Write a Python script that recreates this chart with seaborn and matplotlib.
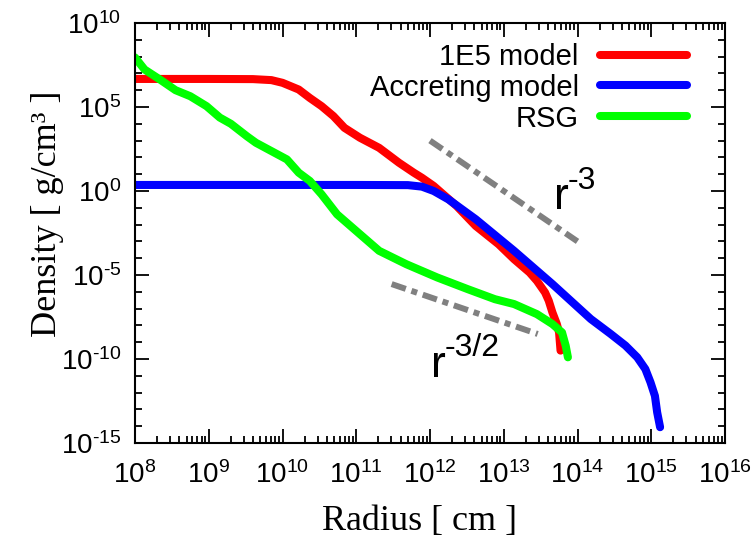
import numpy as np
import pandas as pd
import matplotlib
matplotlib.use("Agg")
import matplotlib.pyplot as plt
import matplotlib.ticker as mticker
import seaborn as sns

# log10 of radius [cm] and density [g/cm^3]
red_logr = [8.0, 9.0, 9.6, 9.85, 10.0, 10.22, 10.37, 10.53, 10.69, 10.84, 11.05,
            11.31, 11.58, 11.78, 11.89, 12.05, 12.36, 12.62, 12.93, 13.14, 13.35,
            13.45, 13.56, 13.61, 13.66, 13.72, 13.75, 13.77]
red_logrho = [6.67, 6.67, 6.66, 6.6, 6.44, 6.04, 5.54, 5.05, 4.46, 3.76, 3.17,
              2.57, 1.68, 1.09, 0.79, 0.30, -0.89, -2.08, -3.17, -4.06, -4.85,
              -5.35, -6.04, -6.53, -7.23, -7.92, -8.42, -9.5]

blue_logr = [8.0, 11.0, 11.7, 11.89, 12.05, 12.25, 12.62, 13.14, 13.66, 14.18,
             14.45, 14.65, 14.81, 14.92, 14.99, 15.05, 15.08, 15.12]
blue_logrho = [0.36, 0.36, 0.35, 0.26, 0.0, -0.5, -1.68, -3.56, -5.54, -7.62,
               -8.51, -9.2, -9.9, -10.6, -11.39, -12.2, -13.17, -14.06]

green_logr = [8.0, 8.13, 8.34, 8.55, 8.75, 8.97, 9.15, 9.3, 9.52, 9.64, 10.06,
              10.22, 10.37, 10.53, 10.74, 11.0, 11.31, 11.68, 12.1, 12.51, 12.88,
              13.14, 13.45, 13.66, 13.79, 13.84, 13.87]
green_logrho = [7.95, 7.23, 6.63, 6.0, 5.64, 5.05, 4.37, 4.0, 3.25, 2.87, 1.88,
                1.09, 0.6, -0.20, -1.39, -2.38, -3.56, -4.36, -5.15, -5.84, -6.44,
                -6.73, -7.33, -7.92, -8.42, -9.21, -9.9]

# power-law guide lines
slope3_logr = [12.0, 14.0]
slope3_logrho = [3.0, -3.0]
slope15_logr = [11.48, 13.46]
slope15_logrho = [-5.54, -8.51]

labels = ["1E5 model", "Accreting model", "RSG"]
colors = ["#ff0000", "#0000ff", "#00ff00"]

sns.set_style("white")
plt.rcParams['font.family'] = ['Liberation Sans', 'DejaVu Sans']
plt.rcParams['mathtext.fontset'] = 'custom'
plt.rcParams['mathtext.rm'] = 'Liberation Sans'
plt.rcParams['mathtext.it'] = 'Liberation Sans:italic'
plt.rcParams['mathtext.bf'] = 'Liberation Sans:bold'
plt.rcParams['text.color'] = 'black'
plt.rcParams['axes.labelcolor'] = 'black'

fig, ax = plt.subplots(figsize=(7.54, 5.43), dpi=100)
fig.subplots_adjust(left=135/754, right=725/754, bottom=1-443/543, top=1-23/543)

guide = dict(color="#808080", lw=4.3, dashes=(2.5, 1, 1, 1), legend=False)
sns.lineplot(x=10**np.array(slope3_logr), y=10**np.array(slope3_logrho), ax=ax, **guide)
sns.lineplot(x=10**np.array(slope15_logr), y=10**np.array(slope15_logrho), ax=ax, **guide)
for ln in ax.lines:
    ln.set_dash_capstyle("butt")

series = [(red_logr, red_logrho), (blue_logr, blue_logrho), (green_logr, green_logrho)]
for (lr, lrho), lab, col in zip(series, labels, colors):
    df = pd.DataFrame({"r": 10**np.array(lr), "rho": 10**np.array(lrho)})
    sns.lineplot(data=df, x="r", y="rho", color=col, lw=5.8, label=lab,
                 sort=False, estimator=None, ax=ax)

ax.set_xscale("log")
ax.set_yscale("log")
ax.set_xlim(1e8, 1e16)
ax.set_ylim(1e-15, 1e10)


def pow_label(v, pos):
    k = int(round(np.log10(v)))
    if k < 0:
        return r"$\mathdefault{10^{\text{-}%d}}$" % (-k)
    return r"$\mathdefault{10^{%d}}$" % k


ax.xaxis.set_major_locator(mticker.LogLocator(base=10, numticks=20))
ax.xaxis.set_minor_locator(mticker.LogLocator(base=10, subs=np.arange(2, 10), numticks=20))
ax.xaxis.set_minor_formatter(mticker.NullFormatter())
yt = [10.0**k for k in range(-15, 11, 5)]
ax.yaxis.set_major_locator(mticker.FixedLocator(yt))
ax.yaxis.set_minor_locator(mticker.FixedLocator([10.0**k for k in range(-15, 11)]))
ax.yaxis.set_minor_formatter(mticker.NullFormatter())
ax.xaxis.set_major_formatter(mticker.FuncFormatter(pow_label))
ax.yaxis.set_major_formatter(mticker.FuncFormatter(pow_label))

ax.tick_params(which="both", direction="in", top=True, right=True, bottom=True,
               left=True, width=1.3, colors="black", labelsize=20)
ax.tick_params(which="major", length=10)
ax.tick_params(which="minor", length=5)
ax.tick_params(axis="x", pad=13)
ax.tick_params(axis="y", pad=10)
for s in ax.spines.values():
    s.set_color("black")
    s.set_linewidth(1.5)

ax.set_xlabel("Radius [ cm ]", family="Liberation Serif", fontsize=26)
ax.set_ylabel("Density [ g/cm³ ]", family="Liberation Serif", fontsize=26)
ax.xaxis.set_label_coords(0.483, -0.148)
ax.yaxis.set_label_coords(-0.12, 0.545)

# slope annotations
ax.text(10**13.68, 10**-1.09, "r", fontsize=32, ha="left", va="baseline")
ax.text(10**13.87, 10**0.14, "-3", fontsize=23, ha="left", va="baseline")
ax.text(10**12.01, 10**-11.08, "r", fontsize=32, ha="left", va="baseline")
ax.text(10**12.2, 10**-9.8, "-3/2", fontsize=23, ha="left", va="baseline")

ax.legend(loc="upper right", bbox_to_anchor=(0.936, 0.953), frameon=False,
          markerfirst=False, fontsize=21, handlelength=3.0, handletextpad=0.72,
          labelspacing=0.1, borderpad=0, borderaxespad=0)

fig.savefig("out.png", dpi=100)
